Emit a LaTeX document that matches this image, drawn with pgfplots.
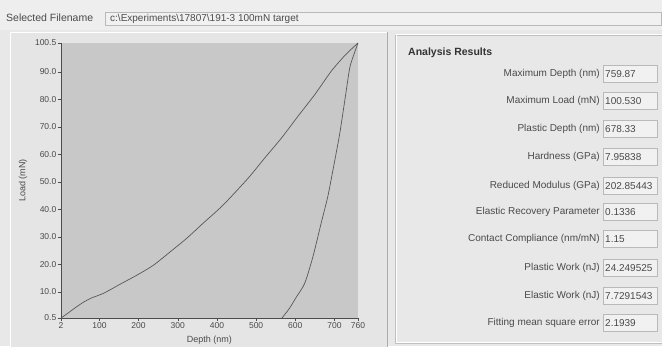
\documentclass[border=0pt]{standalone}
\usepackage{fontspec}
\setmainfont{Liberation Sans}
\usepackage{pgfplots}
\pgfplotsset{compat=1.18}
\definecolor{winbg}{HTML}{E8E8E8}
\definecolor{topbg}{HTML}{EEEEEE}
\definecolor{panelbg}{HTML}{E5E5E5}
\definecolor{plotbg}{HTML}{C8C8C8}
\definecolor{boxbg}{HTML}{F1F1F1}
\definecolor{txt}{HTML}{4A4A4A}
\definecolor{curve}{HTML}{575757}
\newcommand{\row}[3]{%
  \node[anchor=east,font=\fontsize{10}{10}\selectfont,text=txt,inner sep=0pt] at (600,#1) {#2};
  \draw[gray!55,fill=boxbg] (603,#1-8.5) rectangle (657,#1+8.5);
  \node[anchor=west,font=\fontsize{10}{10}\selectfont,text=txt,inner sep=0pt] at (605,#1) {#3};}
\begin{document}
\begin{tikzpicture}[x=1pt,y=1pt]
\useasboundingbox (0,0) rectangle (662,346);
\fill[winbg] (0,0) rectangle (662,346);
\fill[topbg] (0,316) rectangle (662,346);
% filename bar
\node[anchor=west,font=\fontsize{10.5}{10.5}\selectfont,text=txt,inner sep=0pt] at (6,328) {Selected Filename};
\draw[gray!55,fill=boxbg] (105,321) rectangle (661,334);
\node[anchor=west,font=\fontsize{10}{10}\selectfont,text=txt,inner sep=0pt] at (110,327.5) {c:\textbackslash Experiments\textbackslash 17807\textbackslash 191-3 100mN target};
% left chart panel
\fill[panelbg] (10,-5) rectangle (387,314);
\draw[white,line width=0.8pt] (10,-5) -- (10,314) -- (387,314);
\draw[gray!65,line width=0.8pt] (387,314) -- (387,-5);
% right group box
\draw[gray!50] (395,3) rectangle (670,311);
\draw[white] (396,4) rectangle (671,312);
\node[anchor=west,font=\bfseries\fontsize{10.5}{10.5}\selectfont,text=black!80,inner sep=0pt] at (408,293) {Analysis Results};
\row{272}{Maximum Depth (nm)}{759.87}
\row{245}{Maximum Load (mN)}{100.530}
\row{217}{Plastic Depth (nm)}{678.33}
\row{189}{Hardness (GPa)}{7.95838}
\row{160}{Reduced Modulus (GPa)}{202.85443}
\row{134}{Elastic Recovery Parameter}{0.1336}
\row{107}{Contact Compliance (nm/mN)}{1.15}
\row{78}{Plastic Work (nJ)}{24.249525}
\row{50}{Elastic Work (nJ)}{7.7291543}
\row{23}{Fitting mean square error}{2.1939}
\begin{axis}[
  at={(61pt,28pt)}, anchor=south west,
  scale only axis, width=297pt, height=275pt,
  xmin=2, xmax=760, ymin=0.5, ymax=100.5,
  axis background/.style={fill=plotbg},
  axis x line*=bottom, axis y line*=left,
  axis line style={draw=gray!60!black,-},
  tick align=outside, major tick length=3pt,
  tick style={gray!60!black},
  xtick={2,100,200,300,400,500,600,700,760},
  xticklabels={2,100,200,300,400,500,600,700,760},
  ytick={0.5,10,20,30,40,50,60,70,80,90,100.5},
  yticklabels={0.5,10.0,20.0,30.0,40.0,50.0,60.0,70.0,80.0,90.0,100.5},
  ticklabel style={font=\fontsize{8.5}{8.5}\selectfont,text=txt},
  xticklabel style={inner sep=1.5pt},
  yticklabel style={inner sep=1.5pt},
  xlabel={Depth (nm)}, ylabel={Load (mN)},
  label style={font=\fontsize{9}{9}\selectfont,text=txt},
  xlabel style={at={(axis description cs:0.5,-0.08)},anchor=center},
  ylabel style={at={(axis description cs:-0.128,0.5)},anchor=center},
  clip=false,
]
\addplot[curve,line width=0.7pt,smooth,tension=0.4] coordinates {
(2,0.5) (20,2.3) (40,4.4) (60,6.3) (80,7.8) (111,9.5) (153,12.8) (196,16.1)
(238,19.7) (281,24.6) (323,29.5) (365,35.0) (416,41.6) (480,51.4) (522,58.7)
(565,66.0) (607,73.9) (650,81.8) (692,90.3) (728,96.2) (760,100.5)};
\addplot[curve,line width=0.7pt,smooth,tension=0.4] coordinates {
(760,100.5) (750,96.5) (739,91.5) (726,79.3) (713,67.2) (697,55.0) (683,44.7)
(666,35.0) (645,22.8) (624,13.1) (603,8.2) (585,4.0) (566,0.5)};
\end{axis}
\end{tikzpicture}
\end{document}
